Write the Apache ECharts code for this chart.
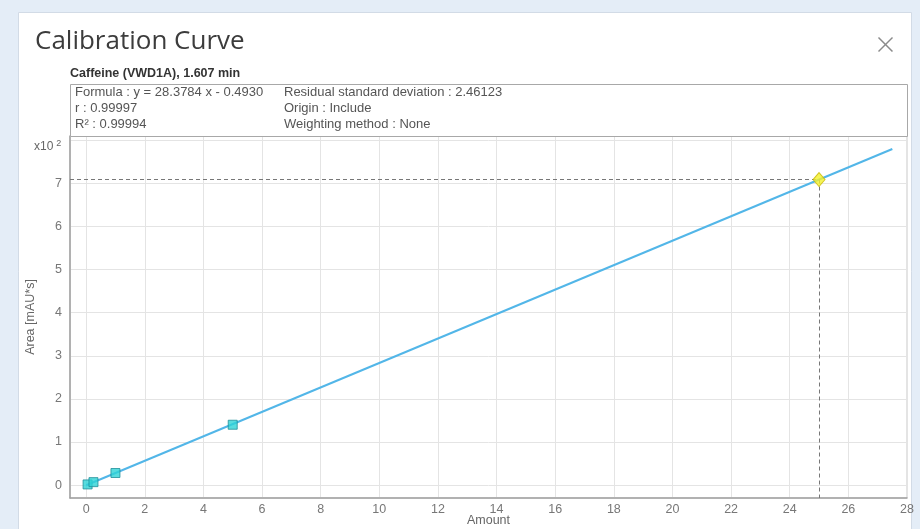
<!DOCTYPE html>
<html>
<head>
<meta charset="utf-8">
<script src="https://cdn.jsdelivr.net/npm/echarts@6/dist/echarts.min.js"></script>
<style>
  html, body { margin: 0; padding: 0; background: #e4edf7; }
  #chart { width: 920px; height: 529px; }
</style>
</head>
<body>
<div id="chart"></div>
<script>
// calibration levels (amount) and measured areas
const amounts = [0.05, 0.25, 1, 5];
const areas = [1.5, 6.8, 28.0, 140.0];
// sample that was quantified
const sampleAmount = 25;
const sampleArea = 709.0;
// regression line end points
const fitX = [0, 27.5];
const fitY = [-0.49, 779.9];

const infoLeft = ['Formula : y = 28.3784 x - 0.4930', 'r : 0.99997', 'R\u00b2 : 0.99994'];
const infoRight = ['Residual standard deviation : 2.46123', 'Origin : Include', 'Weighting method : None'];

const xMin = -0.55, xMax = 28;
const yMin = -30, yMax = 810;

const chart = echarts.init(document.getElementById('chart'));

const infoText = [];
infoLeft.forEach((t, i) => infoText.push({
  type: 'text', left: 75, top: 86 + i * 16, z: 10,
  style: { text: t, fill: '#555', font: '13px "Liberation Sans", Arial' }
}));
infoRight.forEach((t, i) => infoText.push({
  type: 'text', left: 284, top: 86 + i * 16, z: 10,
  style: { text: t, fill: '#555', font: '13px "Liberation Sans", Arial' }
}));

let option = {
  animation: false,
  backgroundColor: '#e4edf7',
  title: [{
    text: 'Calibration Curve', left: 30, top: 24,
    textStyle: { fontFamily: 'Open Sans', fontSize: 26, fontWeight: 'normal', color: '#3c3c3c' }
  }, {
    text: 'Caffeine (VWD1A), 1.607 min', left: 65, top: 62,
    textStyle: { fontFamily: 'Liberation Sans', fontSize: 12.5, fontWeight: 'bold', color: '#333' }
  }],
  graphic: [{
    type: 'rect', left: 18, top: 12, z: -10,
    shape: { width: 893, height: 530 },
    style: { fill: '#fff', stroke: '#d2dbe6', lineWidth: 1 }
  }, {
    type: 'rect', left: 70, top: 84, z: 5,
    shape: { width: 837, height: 52 },
    style: { fill: '#fff', stroke: '#a8a8a8', lineWidth: 1 }
  }, {
    type: 'group', left: 876, top: 35, z: 10,
    children: [
      { type: 'line', shape: { x1: 0, y1: 0, x2: 14, y2: 14 }, style: { stroke: '#8a8a8a', lineWidth: 1.5 } },
      { type: 'line', shape: { x1: 14, y1: 0, x2: 0, y2: 14 }, style: { stroke: '#8a8a8a', lineWidth: 1.5 } }
    ]
  }, {
    type: 'text', left: 34, top: 139, z: 10,
    style: {
      text: '{b|x10}{s|2}',
      rich: {
        b: { fill: '#666', font: '12px "Liberation Sans", Arial' },
        s: { fill: '#666', font: '9px "Liberation Sans", Arial', verticalAlign: 'top', padding: [0, 0, 6, 3] }
      }
    }
  }].concat(infoText),
  grid: {
    left: 70, right: 13, top: 136, bottom: 31, outerBoundsMode: 'none',
    show: true, borderColor: '#c8c8c8', borderWidth: 1, backgroundColor: '#fff'
  },
  xAxis: {
    type: 'value', min: xMin, max: xMax, minInterval: 2, maxInterval: 2, splitNumber: 14,
    name: 'Amount', nameLocation: 'middle', nameGap: 16, nameMoveOverlap: false,
    nameTextStyle: { color: '#666', fontFamily: 'Liberation Sans', fontSize: 12.5 },
    axisLine: { show: true, onZero: false, lineStyle: { color: '#a0a0a0', width: 1.5 } },
    axisTick: { show: false },
    axisLabel: { color: '#777', fontFamily: 'Liberation Sans', fontSize: 12.5, margin: 5,
      showMinLabel: false, formatter: v => (Math.abs(v - Math.round(v)) < 1e-6 ? String(Math.round(v)) : '') },
    splitLine: { show: true, lineStyle: { color: '#e4e4e4' } }
  },
  yAxis: {
    type: 'value', min: yMin, max: yMax, minInterval: 100, maxInterval: 100, splitNumber: 8,
    name: 'Area [mAU*s]', nameLocation: 'middle', nameGap: 33, nameRotate: 90, nameMoveOverlap: false,
    nameTextStyle: { color: '#666', fontFamily: 'Liberation Sans', fontSize: 12.5 },
    axisLine: { show: true, onZero: false, lineStyle: { color: '#a0a0a0', width: 1.5 } },
    axisTick: { show: false },
    axisLabel: { color: '#777', fontFamily: 'Liberation Sans', fontSize: 12.5, margin: 8,
      showMinLabel: false, showMaxLabel: false,
      formatter: v => (v % 100 === 0 && v < 800 ? String(v / 100) : '') },
    splitLine: { show: true, lineStyle: { color: '#e4e4e4' } }
  },
  series: [{
    name: 'fit', type: 'line', data: fitX.map((x, i) => [x, fitY[i]]),
    symbol: 'none', lineStyle: { color: '#52b6e8', width: 2 }, z: 2
  }, {
    name: 'levels', type: 'scatter', data: amounts.map((x, i) => [x, areas[i]]),
    symbol: 'rect', symbolSize: 9,
    itemStyle: { color: '#2ed3d6', borderColor: '#1f8f9a', borderWidth: 1 }, z: 4
  }, {
    name: 'sample', type: 'scatter', data: [[sampleAmount, sampleArea]],
    symbol: 'diamond', symbolSize: [12, 14],
    itemStyle: { color: '#f4f12a', borderColor: '#c9b800', borderWidth: 1 }, z: 5,
    markLine: {
      silent: true, symbol: 'none', label: { show: false },
      lineStyle: { color: '#777', type: [4, 3], width: 1 },
      data: [
        [{ coord: [xMin, sampleArea] }, { coord: [sampleAmount, sampleArea] }],
        [{ coord: [sampleAmount, sampleArea] }, { coord: [sampleAmount, yMin] }]
      ]
    }
  }]
};

chart.setOption(option);
</script>
</body>
</html>
